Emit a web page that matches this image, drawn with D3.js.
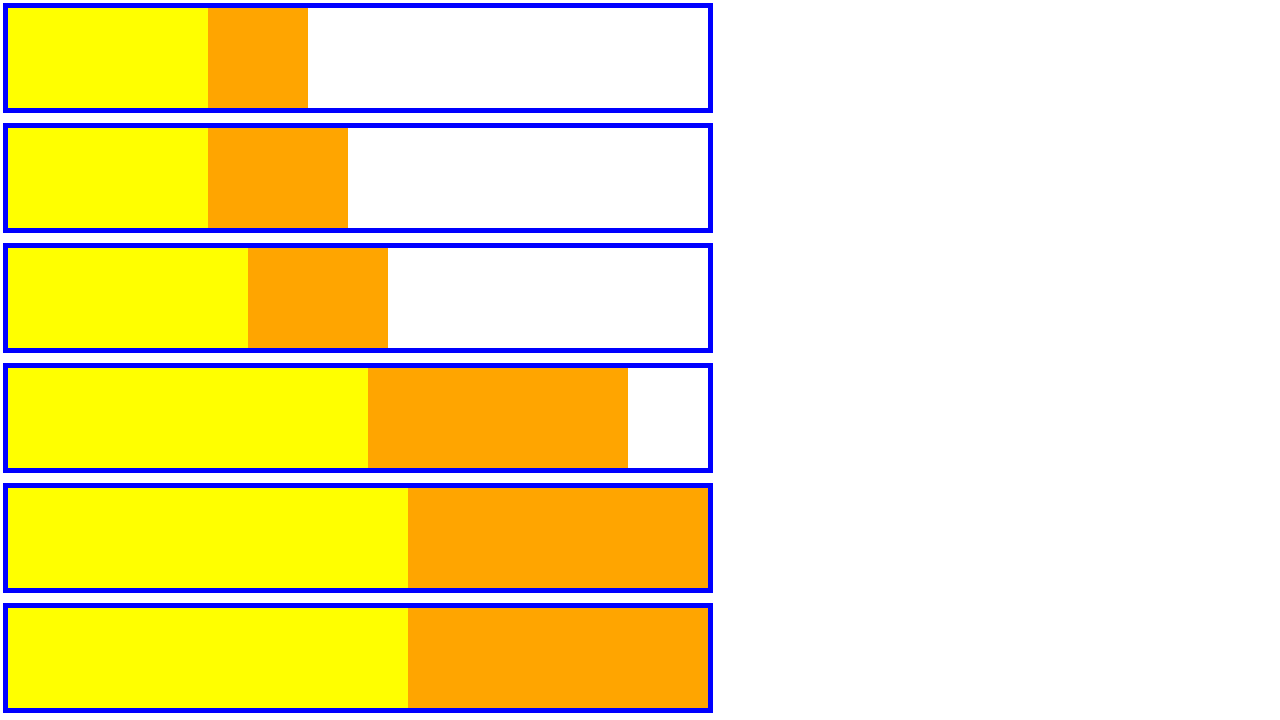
<!DOCTYPE html>
<html>
<head>
<meta charset="utf-8">
<script src="https://cdn.jsdelivr.net/npm/d3@7"></script>
<style>
html,body{margin:0;padding:0;background:#fff;}
svg{display:block;}
</style>
</head>
<body>
<svg id="chart" width="1280" height="720"></svg>
<script>
const rows = ["r1","r2","r3","r4","r5","r6"];
const firstValues = [10,10,12,18,20,20];
const secondValues = [5,7,7,13,15,15];
const maxValue = 35;

const svg = d3.select("#chart");
const x = d3.scaleLinear().domain([0, maxValue]).range([0, 700]);
const y = d3.scaleBand().domain(rows).range([0, 720]).paddingInner(0);

const g = svg.selectAll("g.row").data(rows).join("g")
  .attr("class","row")
  .attr("transform", d => `translate(8,${y(d)+8})`);

svg.append("defs").append("clipPath").attr("id","clip")
  .append("rect").attr("width",700).attr("height",100);

const inner = g.append("g").attr("clip-path","url(#clip)");
inner.append("rect")
  .attr("x", 0).attr("y", 0)
  .attr("width", (d,i) => x(firstValues[i]))
  .attr("height", 100)
  .attr("fill", "yellow");
inner.append("rect")
  .attr("x", (d,i) => x(firstValues[i]))
  .attr("y", 0)
  .attr("width", (d,i) => x(secondValues[i]))
  .attr("height", 100)
  .attr("fill", "orange");

g.append("rect")
  .attr("x", -2.5).attr("y", -2.5)
  .attr("width", 705).attr("height", 105)
  .attr("fill", "none")
  .attr("stroke", "blue")
  .attr("stroke-width", 5);
</script>
</body>
</html>
